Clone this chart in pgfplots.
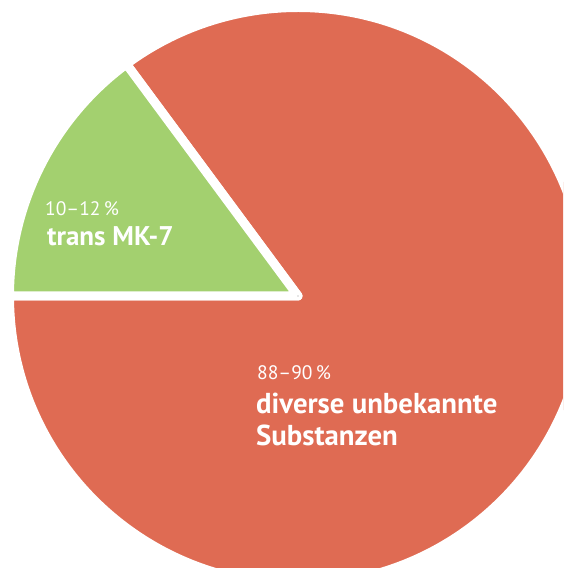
\documentclass[border=0pt]{standalone}
\usepackage{pgfplots}
\pgfplotsset{compat=1.18}
\usepackage{pgfplotstable}
\usepackage{fontspec}
\setmainfont{PT Sans}
\definecolor{pieRed}{RGB}{223,107,83}
\definecolor{pieGreen}{RGB}{163,208,111}

% slice data: centre (x,y) and start/end angle in degrees
\pgfplotstableread{
x y start end
298 272 126.5 180
}\greenslice
\pgfplotstableread{
x y start end
298 272 180 486.5
}\redslice

\pgfplotsset{
  pie wedge/.style={
    only marks, scatter,
    mark=*, mark size=0.01pt,
    mark options={draw=none, fill=none},
    visualization depends on={\thisrow{start} \as \wstart},
    visualization depends on={\thisrow{end} \as \wend},
    scatter/@pre marker code/.code={%
      \fill[fill=#1, draw=white, line width=9pt, line join=round]
        (0pt,0pt) -- (\wstart:288.5pt)
        arc[start angle=\wstart, end angle=\wend, radius=288.5pt] -- cycle;
    },
    scatter/@post marker code/.code={},
  }
}

\begin{document}
\begin{tikzpicture}
\begin{axis}[
  width=563pt, height=568pt, scale only axis,
  xmin=0, xmax=563, ymin=0, ymax=568,
  hide axis, clip marker paths=true,
]
\addplot[pie wedge=pieRed] table[x=x, y=y] {\redslice};
\addplot[pie wedge=pieGreen] table[x=x, y=y] {\greenslice};

\node[anchor=base west, inner sep=0pt, text=white, font=\fontsize{19.5}{21}\selectfont]
  at (axis cs:45,352.3) {10–12\,\%};
\node[anchor=base west, inner sep=0pt, text=white, font=\bfseries\fontsize{27}{30}\selectfont]
  at (axis cs:47,322.3) {trans MK-7};
\node[anchor=base west, inner sep=0pt, text=white, font=\fontsize{19.5}{21}\selectfont]
  at (axis cs:257,188) {88–90\,\%};
\node[anchor=base west, inner sep=0pt, text=white, font=\bfseries\fontsize{28.8}{32}\selectfont]
  at (axis cs:256,154) {diverse unbekannte};
\node[anchor=base west, inner sep=0pt, text=white, font=\bfseries\fontsize{28.8}{32}\selectfont]
  at (axis cs:256,122) {Substanzen};
\end{axis}
\pgfresetboundingbox
\path (current axis.south west) rectangle (current axis.north east);
\end{tikzpicture}
\end{document}
